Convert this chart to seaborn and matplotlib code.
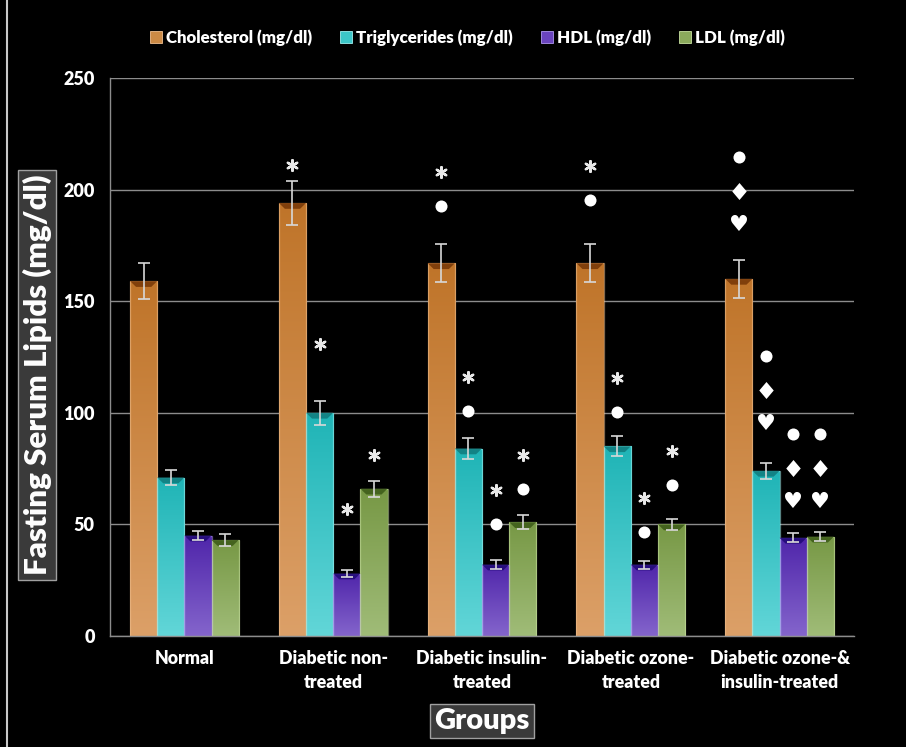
import numpy as np
import pandas as pd
import matplotlib
matplotlib.use("Agg")
import matplotlib.pyplot as plt
import seaborn as sns
from matplotlib.colors import LinearSegmentedColormap
from matplotlib.lines import Line2D
from matplotlib.patches import Polygon, Rectangle
from matplotlib.path import Path

# ---- data -------------------------------------------------------------
groups = ["Normal", "Diabetic non-\ntreated", "Diabetic insulin-\ntreated",
          "Diabetic ozone-\ntreated", "Diabetic ozone-&\ninsulin-treated"]
lipids = ["Cholesterol (mg/dl)", "Triglycerides (mg/dl)", "HDL (mg/dl)", "LDL (mg/dl)"]

cholesterol = [159, 194, 167, 167, 160]
cholesterol_se = [8, 10, 8.5, 8.5, 8.5]
triglycerides = [71, 100, 84, 85, 74]
triglycerides_se = [3.5, 5.5, 4.5, 4.5, 3.7]
hdl = [45, 28, 32, 32, 44]
hdl_se = [2, 1.7, 2, 1.8, 2]
ldl = [43, 66, 51, 50, 44.5]
ldl_se = [2.5, 3.5, 3, 2.4, 2]

# significance symbols: (group index, lipid index, symbols top->bottom, y of lowest symbol)
sig_marks = [
    (1, 0, ["*"], 211), (1, 1, ["*"], 131), (1, 2, ["*"], 57), (1, 3, ["*"], 81),
    (2, 0, ["*", "●"], 192.5), (2, 1, ["*", "●"], 101), (2, 2, ["*", "●"], 50), (2, 3, ["*", "●"], 66),
    (3, 0, ["*", "●"], 195.5), (3, 1, ["*", "●"], 100.5), (3, 2, ["*", "●"], 46.8), (3, 3, ["*", "●"], 67.8),
    (4, 0, ["●", "♦", "♥"], 184), (4, 1, ["●", "♦", "♥"], 95), (4, 2, ["●", "♦", "♥"], 60),
    (4, 3, ["●", "♦", "♥"], 60),
]

values = [cholesterol, triglycerides, hdl, ldl]
errors = [cholesterol_se, triglycerides_se, hdl_se, ldl_se]

df = pd.DataFrame({
    "group": [g for _ in lipids for g in groups],
    "lipid": [l for l in lipids for _ in groups],
    "value": [v for series in values for v in series],
})

# ---- style ------------------------------------------------------------
base_colors = ["#CC8A45", "#3CC6C8", "#6A44BE", "#8BAA5C"]
top_colors = ["#BF7429", "#1FB4B6", "#4F25AA", "#779845"]
bottom_colors = ["#DCA068", "#62D6D8", "#8465CC", "#A0BC78"]
cap_colors = ["#7A3A08", "#117E80", "#220A78", "#3F5E1A"]
edge_colors = ["#F0C090", "#A0F0F0", "#B098F0", "#C8E0A0"]

sns.set_style("dark", {"axes.facecolor": "black", "figure.facecolor": "black"})
plt.rcParams["font.family"] = ["Lato", "DejaVu Sans"]
plt.rcParams["text.color"] = "white"
WEIGHT = "heavy"

fig = plt.figure(figsize=(9.06, 7.47), dpi=100, facecolor="black")
ax = fig.add_axes([110 / 906, 1 - 636 / 747, 744 / 906, 558 / 747], facecolor="black")

sns.barplot(data=df, x="group", y="value", hue="lipid", order=groups, hue_order=lipids,
            palette=base_colors, width=0.73, errorbar=None, saturation=1,
            legend=False, ax=ax, zorder=2, linewidth=0)
bar_containers = list(ax.containers)

grad = np.linspace(0, 1, 256).reshape(-1, 1)
for i, container in enumerate(bar_containers):
    cmap = LinearSegmentedColormap.from_list(f"g{i}", [top_colors[i], bottom_colors[i]])
    for j, patch in enumerate(container.patches):
        x0, w, h = patch.get_x(), patch.get_width(), patch.get_height()
        im = ax.imshow(grad, extent=[x0, x0 + w, 0, h], origin="upper", cmap=cmap,
                       aspect="auto", zorder=2.1, interpolation="bicubic")
        im.set_clip_path(patch)
        ax.add_patch(Rectangle((x0, 0), w, h, fill=False, ec=edge_colors[i],
                               lw=0.9, alpha=0.55, zorder=2.2))
        cap = Polygon([(x0, h), (x0 + w, h), (x0 + 0.78 * w, h - 2.6), (x0 + 0.22 * w, h - 2.6)],
                      closed=True, fc=cap_colors[i], ec="none", alpha=0.9, zorder=2.3)
        ax.add_patch(cap)
        ax.errorbar(x0 + w / 2, h, yerr=errors[i][j], fmt="none", ecolor="#d8d8d8",
                    elinewidth=1.2, capsize=4, capthick=1.2, zorder=4)

# significance symbols above bars
diamond = Path([(0, 1), (0.85, 0), (0, -1), (-0.85, 0), (0, 1)],
               [Path.MOVETO, Path.LINETO, Path.LINETO, Path.LINETO, Path.CLOSEPOLY])
step = 15.2
for g, li, syms, base in sig_marks:
    patch = bar_containers[li].patches[g]
    cx = patch.get_x() + patch.get_width() / 2
    for k, sym in enumerate(reversed(syms)):
        y = base + k * step
        if sym == "*":
            ax.scatter([cx], [y], marker=(6, 2, 0), s=60, color="#e8e8e8",
                       linewidths=1.7, zorder=5)
        elif sym == "●":
            ax.scatter([cx], [y], marker="o", s=75, color="white", linewidths=0, zorder=5)
        elif sym == "♦":
            ax.scatter([cx], [y], marker=diamond, s=150, color="white", linewidths=0, zorder=5)
        else:
            ax.text(cx, y, sym, ha="center", va="center", fontsize=16, color="white",
                    family="DejaVu Sans", zorder=5)

# ---- axes -------------------------------------------------------------
ax.set_xlim(-0.5, len(groups) - 0.5)
ax.set_ylim(0, 250)
ax.set_yticks([0, 50, 100, 150, 200, 250])
ax.yaxis.grid(True, color="#8c8c8c", lw=1)
ax.xaxis.grid(False)
ax.set_axisbelow(True)
for side in ["top", "right"]:
    ax.spines[side].set_visible(False)
for side in ["left", "bottom"]:
    ax.spines[side].set_visible(True)
    ax.spines[side].set_color("#8c8c8c")
    ax.spines[side].set_linewidth(1)

ax.tick_params(axis="y", length=0, pad=11, labelcolor="white", labelsize=13)
ax.tick_params(axis="x", length=0, pad=10, labelcolor="white", labelsize=12.8)
for lab in ax.get_yticklabels():
    lab.set_fontweight(WEIGHT)
for lab in ax.get_xticklabels():
    lab.set_fontweight(WEIGHT)
    lab.set_linespacing(1.5)

box = dict(boxstyle="square,pad=0.15", fc="#3a3a3a", ec="#a0a0a0", lw=1)
ax.set_xlabel("Groups", fontsize=21, fontweight=WEIGHT, color="white", bbox=box, va="center")
ax.set_ylabel("Fasting Serum Lipids (mg/dl)", fontsize=22.5, fontweight=WEIGHT,
              color="white", bbox=box, va="center")
ax.xaxis.set_label_coords(0.5, (636 - 721) / 558)
ax.yaxis.set_label_coords((37 - 110) / 744, (636 - 375) / 558)

# ---- legend -----------------------------------------------------------
handles = [Line2D([], [], marker="s", linestyle="none", markersize=8,
                  markerfacecolor=base_colors[i], markeredgecolor=edge_colors[i],
                  markeredgewidth=0.6) for i in range(len(lipids))]
fig.legend(handles, lipids, loc="center", bbox_to_anchor=(467 / 906, 1 - 38 / 747),
           ncol=4, frameon=False, handletextpad=0.2, columnspacing=1.6,
           handlelength=0.8, labelcolor="white",
           prop={"weight": WEIGHT, "size": 12.2, "family": ["Lato", "DejaVu Sans"]})

fig.add_artist(Line2D([7 / 906, 7 / 906], [0, 1], transform=fig.transFigure,
                      color="#c8c8c8", lw=1.5))

fig.savefig("out.png", dpi=100, facecolor="black")
